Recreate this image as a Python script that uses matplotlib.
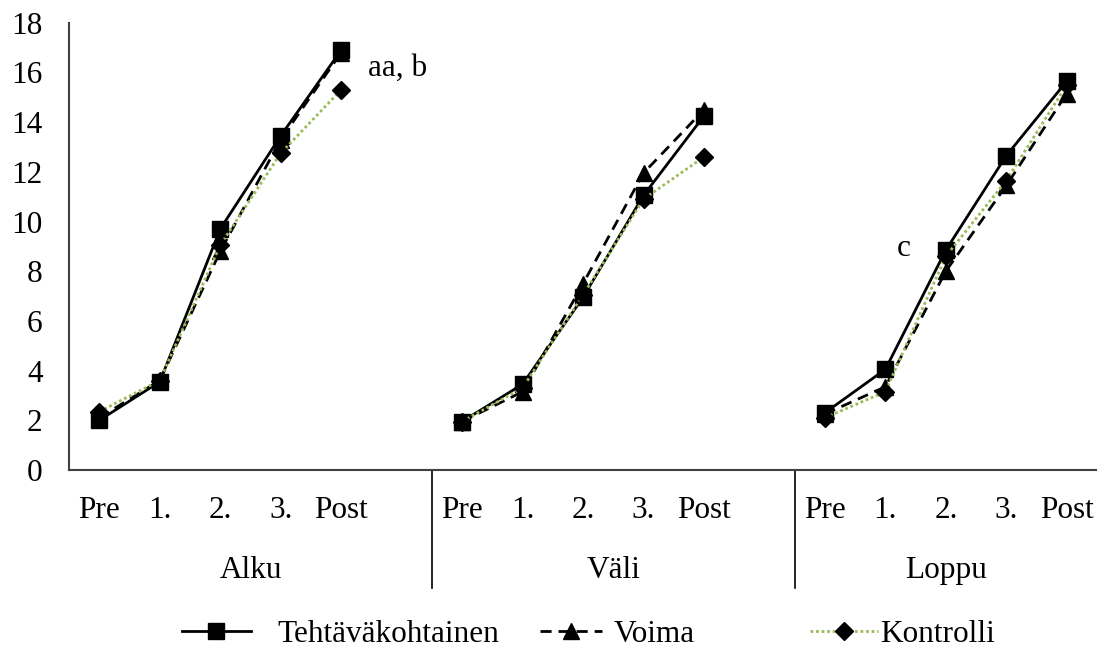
import matplotlib
matplotlib.use("Agg")
import matplotlib.pyplot as plt
import matplotlib.transforms as mtransforms
import numpy as np

plt.rcParams["font.family"] = ["Liberation Serif", "DejaVu Serif"]

phases = ["Alku", "Väli", "Loppu"]
points = ["Pre", "1.", "2.", "3.", "Post"]

tehtava = [
    [2.0, 3.55, 9.7, 13.45, 16.9],
    [1.95, 3.45, 6.95, 11.05, 14.25],
    [2.3, 4.05, 8.85, 12.65, 15.65],
]
voima = [
    [2.1, 3.6, 8.8, 13.3, 16.8],
    [1.95, 3.15, 7.5, 11.95, 14.5],
    [2.25, 3.35, 8.0, 11.45, 15.15],
]
kontrolli = [
    [2.35, 3.6, 9.05, 12.75, 15.3],
    [1.95, 3.3, 7.05, 10.9, 12.6],
    [2.1, 3.15, 8.6, 11.65, 15.5],
]


def flatten(groups):
    # one empty category between phases, so the lines break there
    out = []
    for i, g in enumerate(groups):
        out.extend(g)
        if i < len(groups) - 1:
            out.append(np.nan)
    return np.array(out)


FS = 22.5
n = len(points)
x = np.arange(len(phases) * (n + 1) - 1)
tick_pos = [i * (n + 1) + j for i in range(len(phases)) for j in range(n)]
tick_labels = points * len(phases)

fig = plt.figure(figsize=(10.97, 6.5), dpi=100)
ax = fig.add_axes([0.063, 0.277, 0.937, 0.688])

l1, = ax.plot(x, flatten(tehtava), color="black", lw=2, ls="-", marker="s",
              markersize=11, label="Tehtäväkohtainen")
l2, = ax.plot(x, flatten(voima), color="black", lw=2, ls=(0, (4, 2.5)),
              marker="^", markersize=11, label="Voima")
l3, = ax.plot(x, flatten(kontrolli), color="#9BBB59", lw=2, ls=(0, (1, 1)),
              marker="D", markersize=9, markerfacecolor="black",
              markeredgecolor="black", label="Kontrolli")

ax.set_xlim(-0.5, x[-1] + 0.5)
ax.set_ylim(0, 18)
ax.set_yticks(np.arange(0, 19, 2))
ax.set_xticks(tick_pos)
ax.set_xticklabels(tick_labels)
ax.tick_params(axis="both", length=0, labelsize=FS)
ax.tick_params(axis="x", pad=19)
ax.tick_params(axis="y", pad=19)

for side in ["top", "right"]:
    ax.spines[side].set_visible(False)
for side in ["left", "bottom"]:
    ax.spines[side].set_color("#404040")
    ax.spines[side].set_linewidth(1.5)

trans = mtransforms.blended_transform_factory(ax.transData, ax.transAxes)
for i, ph in enumerate(phases):
    left = -0.5 if i == 0 else i * (n + 1) - 0.5
    right = x[-1] + 0.5 if i == len(phases) - 1 else (i + 1) * (n + 1) - 0.5
    ax.text((left + right) / 2, -0.225, ph, transform=trans, ha="center",
            va="center", fontsize=FS)
    if i > 0:
        ax.plot([left, left], [0, -0.265], transform=trans, color="black",
                lw=1.2, clip_on=False)

ax.text(4.45, 16.15, "aa, b", ha="left", va="center", fontsize=FS)
ax.text(13.3, 8.9, "c", ha="center", va="center", fontsize=FS)

# legend entries are spaced unevenly in the original, so one legend each
for line, x0, hl, pad in [(l1, 0.166, 2.2, 0.85), (l2, 0.492, 2.0, 0.35),
                          (l3, 0.738, 2.2, 0.05)]:
    fig.legend(handles=[line], loc="center left", bbox_to_anchor=(x0, 0.024),
               frameon=False, fontsize=FS, handlelength=hl,
               handletextpad=pad, borderaxespad=0, borderpad=0)

fig.savefig("out.png", dpi=100)
